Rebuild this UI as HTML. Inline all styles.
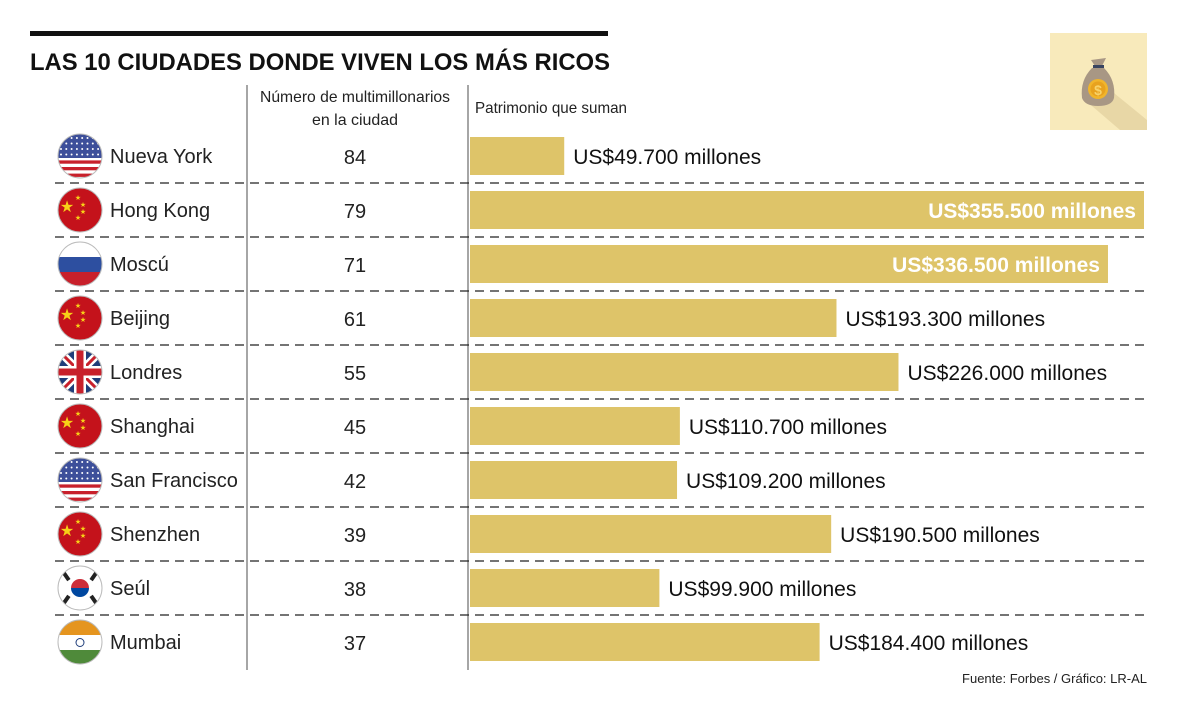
<!DOCTYPE html>
<html><head><meta charset="utf-8"><style>
body{margin:0;background:#fff;}
svg{display:block;font-family:"Liberation Sans",sans-serif;}
</style></head><body>
<svg id="c" width="1200" height="718" viewBox="0 0 1200 718">
<defs>
<clipPath id="fc"><circle cx="0" cy="0" r="22"/></clipPath>
</defs>
<rect x="30" y="31" width="578" height="5" fill="#111"/>
<text x="30" y="70" font-size="24" font-weight="bold" fill="#111" textLength="580" lengthAdjust="spacingAndGlyphs">LAS 10 CIUDADES DONDE VIVEN LOS MÁS RICOS</text>
<g>
<rect x="1050" y="33" width="97" height="97" fill="#f8eabb"/>
<polygon points="1098,80 1147,120 1147,130 1120,130 1085,100" fill="#e8d7a6"/>
<path d="M1092,68 Q1080,80 1082,98 Q1085,106 1098,106 Q1112,106 1114,98 Q1116,80 1104,68 Z" fill="#a89784"/>
<path d="M1091,60 L1106,58 L1102,66 L1095,66 Z" fill="#a89784"/>
<rect x="1093" y="65" width="11" height="3" fill="#3a4560"/>
<circle cx="1098" cy="89" r="10" fill="#f1b52b"/>
<circle cx="1098" cy="89" r="7.5" fill="#e8a21e"/>
<text x="1098" y="95" font-size="14" font-weight="bold" text-anchor="middle" fill="#f8d36a">$</text>
</g>
<line x1="247" y1="85" x2="247" y2="670" stroke="#888" stroke-width="1.5"/>
<line x1="468" y1="85" x2="468" y2="670" stroke="#888" stroke-width="1.5"/>
<text x="355" y="102" font-size="16" text-anchor="middle" fill="#222" textLength="190" lengthAdjust="spacingAndGlyphs">Número de multimillonarios</text>
<text x="355" y="125" font-size="16" text-anchor="middle" fill="#222" textLength="86" lengthAdjust="spacingAndGlyphs">en la ciudad</text>
<text x="475" y="113" font-size="16" fill="#222" textLength="152" lengthAdjust="spacingAndGlyphs">Patrimonio que suman</text>
<g id="rows"></g>
<text x="1147" y="683" font-size="13" text-anchor="end" fill="#222">Fuente: Forbes / Gráfico: LR-AL</text>
</svg>
<script>
const cities=["Nueva York","Hong Kong","Moscú","Beijing","Londres","Shanghai","San Francisco","Shenzhen","Seúl","Mumbai"];
const counts=[84,79,71,61,55,45,42,39,38,37];
const wealth=[49.7,355.5,336.5,193.3,226.0,110.7,109.2,190.5,99.9,184.4];
const wealthLabels=["US$49.700 millones","US$355.500 millones","US$336.500 millones","US$193.300 millones","US$226.000 millones","US$110.700 millones","US$109.200 millones","US$190.500 millones","US$99.900 millones","US$184.400 millones"];
const flags=["us","cn","ru","cn","uk","cn","us","cn","kr","in"];
const NS="http://www.w3.org/2000/svg";
const g=document.getElementById('rows');
const x0=470, xScale=v=>x0+v*(1144-470)/355.5;
const rowY=i=>156+i*54;
function el(t,a,p){const e=document.createElementNS(NS,t);for(const k in a)e.setAttribute(k,a[k]);(p||g).appendChild(e);return e;}
function flag(type,cx,cy){
  const f=el('g',{transform:`translate(${cx},${cy})`});
  
  
  const c=el('g',{'clip-path':'url(#fc)'},f);
  if(type==='us'){
    el('rect',{x:-22,y:-22,width:44,height:44,fill:'#fff'},c);
    for(let k=0;k<7;k++)el('rect',{x:-22,y:-22+k*6.6,width:44,height:3.3,fill:'#c8202b'},c);
    el('rect',{x:-22,y:-22,width:44,height:24,fill:'#3d4f9a'},c);
    for(let r=0;r<4;r++)for(let q=0;q<8;q++)el('circle',{cx:-19+q*5.3,cy:-18+r*5.5,r:1,fill:'#fff'},c);
  }else if(type==='cn'){
    el('rect',{x:-22,y:-22,width:44,height:44,fill:'#c4121b'},c);
    el('text',{x:-13,y:2,'font-size':16,fill:'#f7d117','text-anchor':'middle'},c).textContent='★';
    [[-2,-13],[3,-6],[3,1],[-2,7]].forEach(p=>{el('text',{x:p[0],y:p[1]+3,'font-size':7,fill:'#f7d117','text-anchor':'middle'},c).textContent='★';});
  }else if(type==='ru'){
    el('rect',{x:-22,y:-22,width:44,height:15,fill:'#fff'},c);
    el('rect',{x:-22,y:-7,width:44,height:15,fill:'#2d4fa0'},c);
    el('rect',{x:-22,y:8,width:44,height:15,fill:'#c8202b'},c);
  }else if(type==='uk'){
    el('rect',{x:-22,y:-22,width:44,height:44,fill:'#1f3d7a'},c);
    el('path',{d:'M-22,-22L22,22M22,-22L-22,22',stroke:'#fff','stroke-width':8},c);
    el('path',{d:'M-22,-22L22,22M22,-22L-22,22',stroke:'#c8202b','stroke-width':3},c);
    el('path',{d:'M0,-22V22M-22,0H22',stroke:'#fff','stroke-width':12},c);
    el('path',{d:'M0,-22V22M-22,0H22',stroke:'#c8202b','stroke-width':7},c);
  }else if(type==='kr'){
    el('rect',{x:-22,y:-22,width:44,height:44,fill:'#fff'},c);
    el('path',{d:'M-9,0A9,9 0 0 1 9,0Z',fill:'#cd2e3a'},c);
    el('path',{d:'M-9,0A9,9 0 0 0 9,0Z',fill:'#0047a0'},c);
    [[-14,-12,-35],[14,-12,35],[-14,12,35],[14,12,-35]].forEach(p=>el('rect',{x:p[0]-2,y:p[1]-5,width:4,height:10,fill:'#222',transform:`rotate(${p[2]} ${p[0]} ${p[1]})`},c));
  }else if(type==='in'){
    el('rect',{x:-22,y:-22,width:44,height:15,fill:'#e5951f'},c);
    el('rect',{x:-22,y:-7,width:44,height:15,fill:'#fff'},c);
    el('rect',{x:-22,y:8,width:44,height:15,fill:'#4f8a3a'},c);
    el('circle',{cx:0,cy:0.5,r:4,fill:'none',stroke:'#1f3d7a','stroke-width':1},c);
  }
  el('circle',{cx:0,cy:0,r:22,fill:'none',stroke:'#bbb','stroke-width':1},f);
}
cities.forEach((name,i)=>{
  const y=rowY(i);
  if(i>0){const d=el('line',{x1:55,x2:1147,y1:y-27,y2:y-27,stroke:'#222','stroke-width':1.2,'stroke-dasharray':'9,6'});
    
    }
  flag(flags[i],80,y);
  const t=el('text',{x:110,y:y+7,'font-size':20,fill:'#222'});t.textContent=name;
  
  
  const n=el('text',{x:355,y:y+8,'font-size':20,fill:'#222','text-anchor':'middle'});n.textContent=counts[i];
  
  
  const xe=xScale(wealth[i]);
  const b=el('rect',{x:x0,y:y-19,width:xe-x0,height:38,fill:'#dec469'});
  
  
  const inside=wealth[i]>300;
  const l=el('text',{x:inside?xe-8:xe+9,y:y+8,'font-size':21,'font-weight':inside?'bold':'normal',fill:inside?'#fff':'#111','text-anchor':inside?'end':'start'});
  l.textContent=wealthLabels[i];
  
  
});
</script>
</body></html>
